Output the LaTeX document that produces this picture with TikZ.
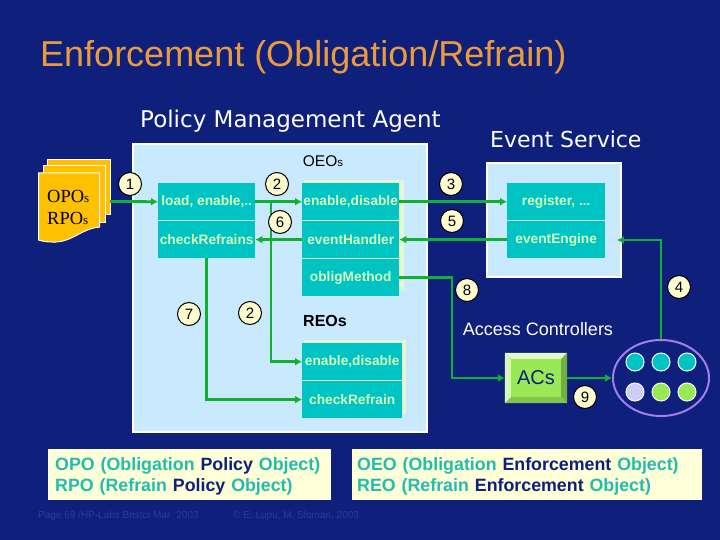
\documentclass[tikz,border=0pt]{standalone}
\usepackage{fontspec}
\setmainfont{Liberation Sans}
\newfontfamily\dvfont{DejaVu Sans}
\newfontfamily\tmfont{Liberation Serif}
\usepackage{tikz}
\usetikzlibrary{positioning,arrows.meta,calc,fit,backgrounds,shapes.geometric}
\definecolor{slide}{HTML}{0E1F7C}
\definecolor{panel}{HTML}{C9E9FF}
\definecolor{teal}{HTML}{00C4C4}
\definecolor{celltext}{HTML}{D6FBB8}
\definecolor{cellframe}{HTML}{E6F8D0}
\definecolor{wire}{HTML}{10B030}
\definecolor{tagfill}{HTML}{FFFBD0}
\definecolor{gold}{HTML}{FFC000}
\definecolor{titlegold}{HTML}{EA9C3C}
\definecolor{lime}{HTML}{99E855}
\definecolor{violet}{HTML}{A080E8}
\definecolor{lilac}{HTML}{CCCCF5}
\definecolor{legendbg}{HTML}{FFFFD8}
\definecolor{legendtxt}{HTML}{20BDB0}
\definecolor{footer}{HTML}{2A3D9A}
\newcommand{\smallS}[1]{{\fontsize{#1}{#1}\selectfont s}}
\begin{document}
\begin{tikzpicture}[
  x=1pt,y=-1pt,
  panelbox/.style={draw=white,line width=1.5pt,fill=panel},
  cell/.style={fill=teal,draw=none,minimum height=37pt,inner sep=0pt,font=\bfseries\fontsize{13.7}{13.7}\selectfont,text=celltext,align=center},
  tag/.style={circle,draw=black,line width=1pt,fill=tagfill,minimum size=23pt,inner sep=0pt,font=\fontsize{15}{15}\selectfont},
  head/.style={font=\dvfont\fontsize{23}{23}\selectfont,text=white,anchor=base west},
  ar/.style={-{Latex[length=7pt,width=8pt]},draw=wire,line width=2.8pt},
  ln/.style={draw=wire,line width=2.8pt},
  sheet/.style={fill=gold,draw=white,line width=1pt},
  member/.style={circle,draw=white,line width=1pt,minimum size=18pt,inner sep=0pt},
  legend/.style={fill=legendbg,draw=none,inner sep=0pt,minimum height=51pt,text height=17pt,font=\bfseries\fontsize{17.8}{21}\selectfont,align=left,text=legendtxt}]
\useasboundingbox (0,0) rectangle (720,540);
\fill[slide] (0,0) rectangle (720,540);
% title
\node[anchor=base west,inner sep=0pt,text=titlegold,font=\fontsize{36}{36}\selectfont] (title) at (40,67) {Enforcement (Obligation/Refrain)};
\node[head,inner sep=0pt] (agent) at (140,128) {Policy Management Agent};
\node[head,inner sep=0pt,font=\dvfont\fontsize{22}{22}\selectfont] (service) at (490,148) {Event Service};
% panels
\draw[panelbox] (133,144) rectangle (427,432);
\draw[panelbox] (487,163) rectangle (621,277);
\fill[cellframe] (304,180) rectangle (404,290);
\fill[cellframe] (304,340) rectangle (406,414);
% policy objects
\draw[sheet] (47,160) rectangle (110,215);
\draw[sheet] (43,166) rectangle (105,223);
\draw[sheet] (38.5,173) -- (99.5,173) -- (99.5,227) .. controls (80,229) and (72,243) .. (52,242) .. controls (46,242) and (42,241) .. (38.5,240) -- cycle;
\node[font=\tmfont\fontsize{18.5}{22}\selectfont,align=left,inner sep=0pt,anchor=west] (objs) at (47,207) {OPO\smallS{13}\\RPO\smallS{13}};
\coordinate (stack) at (110,201.5);
% cells
\node[cell,minimum width=97pt,anchor=north west] (load) at (158,183) {load, enable,..};
\node[cell,minimum width=97pt,below=0.5pt of load] (refrains) {checkRefrains};
\node[cell,minimum width=97pt,anchor=north west] (oeoen) at (302,183) {enable,disable};
\node[cell,minimum width=97pt,below=0.5pt of oeoen] (handler) {eventHandler};
\node[cell,minimum width=97pt,below=0.5pt of handler] (method) {obligMethod};
\node[cell,minimum width=98pt,anchor=north west] (register) at (507,183) {register, ...};
\node[cell,minimum width=98pt,below=0.5pt of register] (engine) {eventEngine};
\node[cell,minimum width=100pt,anchor=north west] (reoen) at (302,343) {enable,disable};
\node[cell,minimum width=100pt,below=0.5pt of reoen] (check) {checkRefrain};
% captions
\node[font=\fontsize{15.5}{15.5}\selectfont,inner sep=0pt] (oeos) at (323,161) {OEO\smallS{11.5}};
\node[font=\bfseries\fontsize{16}{16}\selectfont,inner sep=0pt] (reos) at (325,321) {REOs};
\node[font=\fontsize{18}{18}\selectfont,text=white,inner sep=0pt] (access) at (538,329) {Access Controllers};
% access controllers
\node[fill=lime,minimum width=62pt,minimum height=50pt,inner sep=0pt,font=\fontsize{20}{20}\selectfont,text=slide] (acs) at (536,378) {ACs};
\fill[white!70!lime] (acs.north west) -- (acs.north east) -- ++(-6,6) -- ++(-50,0) -- cycle;
\fill[white!60!lime] (acs.north west) -- (acs.south west) -- ++(6,-6) -- ++(0,-38) -- cycle;
\fill[black!25!lime] (acs.north east) -- (acs.south east) -- ++(-6,-6) -- ++(0,-38) -- cycle;
\fill[black!15!lime] (acs.south west) -- (acs.south east) -- ++(-6,-6) -- ++(-50,0) -- cycle;
\node[ellipse,draw=violet,line width=2pt,minimum width=96pt,minimum height=76pt,inner sep=0pt] (group) at (661,378) {};
\foreach \n/\px/\py/\c in {a/635/362/teal,b/661/362/teal,c/687/362/teal,d/635/392/lilac,e/661/392/lime,f/687/392/lime}
  \node[member,fill=\c] (m\n) at (\px,\py) {};
% connectors
\coordinate (split) at (271,201.5);
\coordinate (enginein) at (617,240);
\coordinate (drop) at (452,320);
\draw[ar] (stack) -- (load.west);
\draw[ar] (load.east) -- (oeoen.west);
\draw[ar] (split) |- (reoen.west);
\draw[ar] (handler.west) -- (refrains.east);
\draw[ar] (refrains.south) |- (check.west);
\draw[ar] (oeoen.east) -- (register.west);
\draw[ar] (engine.west) -- (handler.east);
\draw[ln] (method.east) -| (drop);
\draw[ar] (drop) |- (acs.west);
\draw[ar] (acs.east) -- (group.west);
\draw[ar] (group.north) |- (enginein);
% numbers
\foreach \n/\t/\px/\py in {one/1/130/184,two/2/277/184,six/6/280/222,three/3/451/184,five/5/452/221,eight/8/467/290,four/4/679/287,seven/7/189/314,twob/2/250/313,nine/9/585/397}
  \node[tag] (t\n) at (\px,\py) {\t};
% legends
\node[legend,minimum width=283pt,anchor=north west,text width=269pt] (lgl) at (48,449) {OPO (Obligation \textcolor{slide}{Policy} Object)\\RPO (Refrain \textcolor{slide}{Policy} Object)};
\node[legend,minimum width=350pt,anchor=north west,text width=340pt] (lgr) at (352,449) {OEO (Obligation \textcolor{slide}{Enforcement} Object)\\REO (Refrain \textcolor{slide}{Enforcement} Object)};
\node[anchor=west,inner sep=0pt,text=footer,font=\fontsize{10}{10}\selectfont] (page) at (38,516) {Page 69 /HP-Labs Bristol Mar. 2003};
\node[anchor=west,inner sep=0pt,text=footer,font=\fontsize{10}{10}\selectfont] (copy) at (233,516) {© E. Lupu, M. Sloman, 2003};
\end{tikzpicture}
\end{document}
